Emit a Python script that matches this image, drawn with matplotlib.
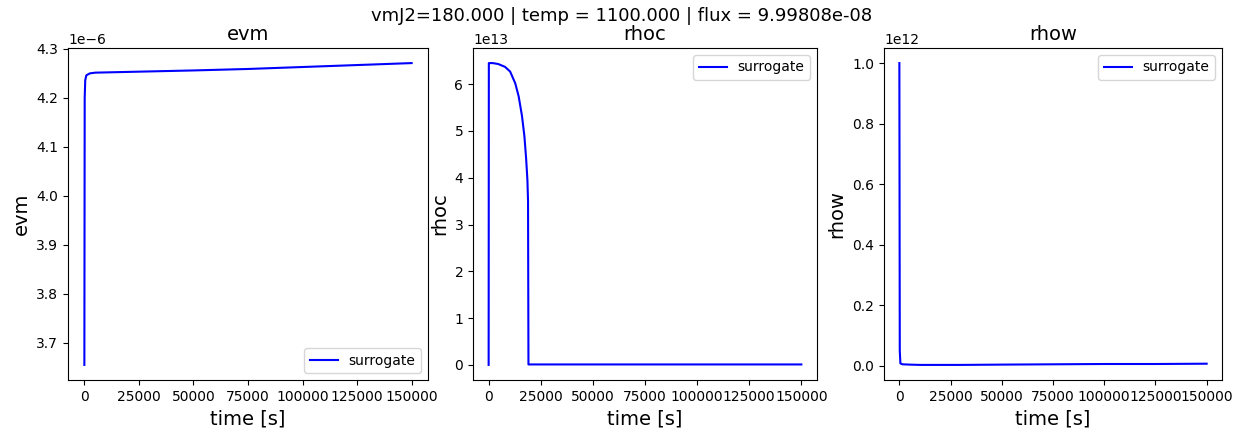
import numpy as np
import matplotlib.pyplot as plt

# values
t_evm = [0, 150, 400, 900, 2500, 5000, 20000, 50000, 75000, 100000, 125000, 150000]
evm = [3.655e-6, 4.200e-6, 4.236e-6, 4.246e-6, 4.250e-6, 4.2515e-6, 4.253e-6, 4.256e-6,
       4.259e-6, 4.263e-6, 4.267e-6, 4.271e-6]

t_rhoc = [0, 100, 2000, 4600, 7850, 10300, 12750, 14400, 16000, 17150, 18000, 18600,
          18900, 19100, 30000, 60000, 100000, 150000]
rhoc = [0.0, 6.45e13, 6.45e13, 6.43e13, 6.37e13, 6.27e13, 6.02e13, 5.74e13, 5.32e13,
        4.89e13, 4.40e13, 3.95e13, 3.5e13, 0.01e13, 0.01e13, 0.01e13, 0.01e13, 0.01e13]

t_rhow = [0, 200, 500, 1500, 5000, 10000, 20000, 30000, 50000, 75000, 100000, 125000, 150000]
rhow = [1.0e12, 0.05e12, 0.008e12, 0.005e12, 0.004e12, 0.003e12, 0.003e12, 0.003e12,
        0.004e12, 0.005e12, 0.006e12, 0.006e12, 0.007e12]

names = ['evm', 'rhoc', 'rhow']
times = [t_evm, t_rhoc, t_rhow]
values = [evm, rhoc, rhow]
legend_loc = ['lower right', 'upper right', 'upper right']

W, H = 1244, 434
fig = plt.figure(figsize=(W / 100, H / 100), dpi=100)
boxes = [(68, 428), (473, 817), (884, 1222)]
top, bottom = 48, 380

for i in range(3):
    l, r = boxes[i]
    ax = fig.add_axes([l / W, 1 - bottom / H, (r - l) / W, (bottom - top) / H])
    ax.plot(times[i], values[i], color='blue', label='surrogate')
    ax.set_title(names[i], fontsize=14)
    ax.set_xlabel('time [s]', fontsize=14)
    ax.set_ylabel(names[i], fontsize=14)
    ax.set_xticks([0, 25000, 50000, 75000, 100000, 125000, 150000])
    ax.legend(loc=legend_loc[i])

fig.suptitle('vmJ2=180.000 | temp = 1100.000 | flux = 9.99808e-08', fontsize=13, y=0.985)
fig.savefig('out.png', dpi=100)
